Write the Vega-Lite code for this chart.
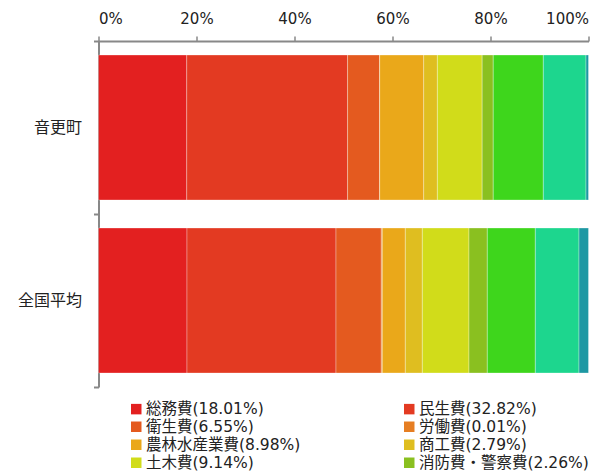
{
  "$schema": "https://vega.github.io/schema/vega-lite/v6.json",
  "width": 490,
  "height": 346,
  "autosize": {"type": "none"},
  "padding": {"left": 98.5, "top": 41, "right": 25.5, "bottom": 86},
  "config": {
    "font": "DejaVu Sans, Noto Sans CJK JP, sans-serif",
    "view": {"stroke": null}
  },
  "data": {
    "values": [
      {"region": "音更町", "item": "総務費", "ord": 1, "value": 18.01},
      {"region": "音更町", "item": "民生費", "ord": 2, "value": 32.82},
      {"region": "音更町", "item": "衛生費", "ord": 3, "value": 6.55},
      {"region": "音更町", "item": "労働費", "ord": 4, "value": 0.01},
      {"region": "音更町", "item": "農林水産業費", "ord": 5, "value": 8.98},
      {"region": "音更町", "item": "商工費", "ord": 6, "value": 2.79},
      {"region": "音更町", "item": "土木費", "ord": 7, "value": 9.14},
      {"region": "音更町", "item": "消防費・警察費", "ord": 8, "value": 2.26},
      {"region": "音更町", "item": "教育費", "ord": 9, "value": 10.22},
      {"region": "音更町", "item": "公債費", "ord": 10, "value": 8.71},
      {"region": "音更町", "item": "その他", "ord": 11, "value": 0.51},
      {"region": "全国平均", "item": "総務費", "ord": 1, "value": 18.06},
      {"region": "全国平均", "item": "民生費", "ord": 2, "value": 30.41},
      {"region": "全国平均", "item": "衛生費", "ord": 3, "value": 9.25},
      {"region": "全国平均", "item": "労働費", "ord": 4, "value": 0.2},
      {"region": "全国平均", "item": "農林水産業費", "ord": 5, "value": 4.7},
      {"region": "全国平均", "item": "商工費", "ord": 6, "value": 3.47},
      {"region": "全国平均", "item": "土木費", "ord": 7, "value": 9.52},
      {"region": "全国平均", "item": "消防費・警察費", "ord": 8, "value": 3.74},
      {"region": "全国平均", "item": "教育費", "ord": 9, "value": 9.8},
      {"region": "全国平均", "item": "公債費", "ord": 10, "value": 8.91},
      {"region": "全国平均", "item": "その他", "ord": 11, "value": 1.94}
    ]
  },
  "mark": {"type": "bar", "size": 145, "stroke": "#ffffff", "strokeWidth": 0.6, "strokeOpacity": 0.5},
  "encoding": {
    "y": {
      "field": "region",
      "type": "nominal",
      "sort": ["音更町", "全国平均"],
      "scale": {"paddingInner": 0, "paddingOuter": 0},
      "axis": {
        "title": null,
        "tickBand": "extent",
        "domainColor": "#888888",
        "domainWidth": 2,
        "tickColor": "#888888",
        "tickWidth": 2,
        "tickSize": 5,
        "labelFontSize": 16,
        "labelColor": "#222222",
        "labelPadding": 12
      }
    },
    "x": {
      "field": "value",
      "type": "quantitative",
      "stack": "normalize",
      "scale": {"domain": [0, 1], "nice": false},
      "axis": {
        "orient": "top",
        "title": null,
        "format": ".0%",
        "values": [0, 0.2, 0.4, 0.6, 0.8, 1],
        "grid": false,
        "domainColor": "#888888",
        "domainWidth": 2,
        "tickColor": "#888888",
        "tickWidth": 1.5,
        "tickSize": 5,
        "labelFontSize": 15,
        "labelColor": "#222222",
        "labelPadding": 10
      }
    },
    "color": {
      "field": "item",
      "type": "nominal",
      "scale": {
        "domain": ["総務費", "民生費", "衛生費", "労働費", "農林水産業費", "商工費", "土木費", "消防費・警察費", "教育費", "公債費", "その他"],
        "range": ["#e32020", "#e33a22", "#e45a1f", "#e67e22", "#eaa81a", "#dfbe20", "#d1dc1a", "#8ac020", "#3ed61c", "#1dd68e", "#1e98a3"]
      },
      "legend": {
        "title": null,
        "orient": "none",
        "direction": "horizontal",
        "legendX": 30,
        "legendY": 360,
        "columns": 2,
        "columnPadding": 101,
        "rowPadding": 1,
        "values": ["総務費", "民生費", "衛生費", "労働費", "農林水産業費", "商工費", "土木費", "消防費・警察費"],
        "symbolType": "square",
        "symbolSize": 110,
        "symbolStrokeWidth": 0,
        "symbolOpacity": 1,
        "labelFontSize": 15.5,
        "labelColor": "#222222",
        "labelOffset": 2,
        "labelLimit": 300,
        "labelExpr": "datum.label + ({'総務費':'(18.01%)','民生費':'(32.82%)','衛生費':'(6.55%)','労働費':'(0.01%)','農林水産業費':'(8.98%)','商工費':'(2.79%)','土木費':'(9.14%)','消防費・警察費':'(2.26%)','教育費':'(10.22%)','公債費':'(8.71%)','その他':'(0.51%)'})[datum.label]"
      }
    },
    "order": {"field": "ord", "type": "quantitative"}
  }
}
